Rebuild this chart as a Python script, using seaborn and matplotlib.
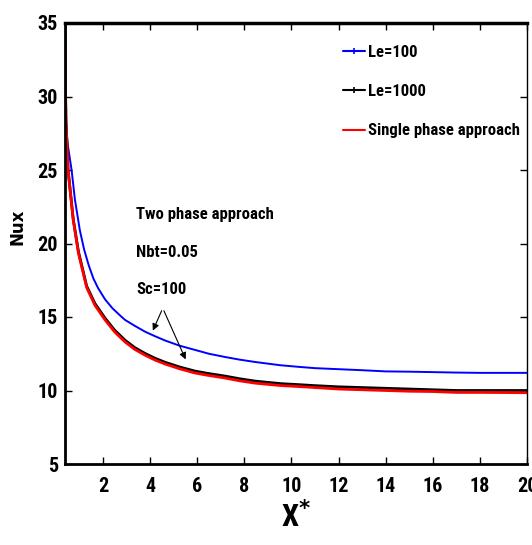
import matplotlib
matplotlib.use("Agg")
import matplotlib.pyplot as plt
from matplotlib.lines import Line2D
import seaborn as sns
import pandas as pd

# ---- data ----
x_le100 = [0.4, 0.5, 0.67, 0.81, 1.02, 1.2, 1.4, 1.6, 1.8, 2.09, 2.4, 2.73, 2.94, 3.35, 3.79, 4.2, 4.64, 5.25, 5.91, 6.5, 7.18, 7.8, 8.46, 9.52, 10.37, 11.0, 12.0, 13.0, 14.0, 15.0, 16.0, 17.0, 18.0, 19.0, 20.0]
y_le100 = [28.6, 26.8, 25.0, 23.0, 20.9, 19.6, 18.5, 17.6, 16.95, 16.2, 15.6, 15.1, 14.8, 14.4, 14.0, 13.7, 13.4, 13.05, 12.76, 12.5, 12.28, 12.1, 11.94, 11.72, 11.6, 11.52, 11.45, 11.38, 11.3, 11.28, 11.25, 11.22, 11.2, 11.2, 11.2]

x_le1000 = [0.39, 0.41, 0.43, 0.52, 0.74, 0.96, 1.31, 1.66, 2.09, 2.5, 2.94, 3.35, 3.79, 4.2, 4.64, 5.25, 5.91, 6.5, 7.18, 7.8, 8.46, 9.52, 10.5, 11.0, 12.0, 13.0, 14.0, 15.0, 16.0, 17.0, 18.0, 19.0, 20.0]
y_le1000 = [35.0, 30.5, 28.4, 25.0, 21.65, 19.45, 17.1, 15.92, 14.92, 14.1, 13.42, 12.92, 12.52, 12.2, 11.92, 11.6, 11.32, 11.15, 10.98, 10.8, 10.64, 10.47, 10.38, 10.33, 10.25, 10.2, 10.15, 10.1, 10.05, 10.0, 10.0, 10.0, 10.0]

x_single = [0.39, 0.41, 0.43, 0.52, 0.74, 0.96, 1.31, 1.66, 2.09, 2.5, 2.94, 3.35, 3.79, 4.2, 4.64, 5.25, 5.91, 6.5, 7.18, 7.8, 8.46, 9.52, 10.5, 11.0, 12.0, 13.0, 14.0, 15.0, 16.0, 17.0, 18.0, 19.0, 20.0]
y_single = [35.0, 30.5, 28.4, 25.0, 21.6, 19.35, 17.0, 15.8, 14.8, 13.98, 13.3, 12.8, 12.4, 12.08, 11.8, 11.48, 11.19, 11.02, 10.85, 10.66, 10.5, 10.34, 10.25, 10.2, 10.1, 10.05, 10.0, 9.95, 9.93, 9.87, 9.87, 9.86, 9.85]

labels = ["Le=100", "Le=1000", "Single phase approach"]
colors = ["#0000ff", "#000000", "#ff0000"]
x_ticks = [2, 4, 6, 8, 10, 12, 14, 16, 18, 20]
y_ticks = [5, 10, 15, 20, 25, 30, 35]
annot_lines = ["Two phase approach", "Nbt=0.05", "Sc=100"]

sns.set_style("ticks")
narrow = ["Liberation Sans Narrow", "Roboto Condensed", "Open Sans Condensed", "Liberation Sans", "DejaVu Sans"]
plt.rcParams["font.family"] = narrow
plt.rcParams["font.weight"] = "bold"
for k in ["text.color", "axes.labelcolor", "xtick.color", "ytick.color", "axes.edgecolor"]:
    plt.rcParams[k] = "black"

fig = plt.figure(figsize=(5.32, 5.45), dpi=100)
ax = fig.add_axes([65 / 532, 1 - 464 / 545, (527 - 65) / 532, (464 - 23) / 545])

series = [(x_le100, y_le100), (x_le1000, y_le1000), (x_single, y_single)]
widths = [1.4, 2.0, 2.0]
for (xs, ys), lab, c, w in zip(series, labels, colors, widths):
    df = pd.DataFrame({"x": xs, "y": ys})
    sns.lineplot(data=df, x="x", y="y", ax=ax, color=c, lw=w, estimator=None, sort=False)

ax.set_xlim(0.39, 20)
ax.set_ylim(5, 35)
ax.set_xticks(x_ticks)
ax.set_yticks(y_ticks)
ax.tick_params(direction="in", length=5, width=1, top=True, right=True, labelsize=14.5, pad=5)
ax.tick_params(axis="x", pad=9)
for lab in ax.get_xticklabels() + ax.get_yticklabels():
    lab.set_fontweight("bold")
for side, w in [("left", 2), ("bottom", 2), ("top", 2.5), ("right", 1)]:
    ax.spines[side].set_visible(True)
    ax.spines[side].set_linewidth(w)
    ax.spines[side].set_color("black")

ax.set_xlabel("X$^{*}$", fontsize=22, fontweight="bold", labelpad=4)
ax.set_ylabel("Nux", fontsize=12, fontweight="heavy", family=["DejaVu Sans"])
ax.yaxis.set_label_coords(-0.084, 0.537)

handles = [Line2D([0], [0], color=c, lw=1.5, marker="|", markersize=4, markeredgewidth=1.2) for c in colors[:2]]
handles.append(Line2D([0], [0], color=colors[2], lw=1.5))
leg = ax.legend(handles, labels, loc="upper left", frameon=False, fontsize=12,
                handlelength=1.3, handletextpad=0.2, labelspacing=1.45,
                bbox_to_anchor=(0.587, 0.965), borderaxespad=0.0)
for t in leg.get_texts():
    t.set_fontweight("bold")

ax.text(3.4, 22.5, "\n".join(annot_lines), fontsize=12, fontweight="bold",
        va="top", ha="left", linespacing=2.9)
ax.annotate("", xy=(4.07, 13.9), xytext=(4.54, 15.6),
            arrowprops=dict(arrowstyle="-|>", color="black", lw=0.8, mutation_scale=10))
ax.annotate("", xy=(5.56, 11.94), xytext=(4.54, 15.6),
            arrowprops=dict(arrowstyle="-|>", color="black", lw=0.8, mutation_scale=10))

fig.savefig("out.png", dpi=100)
